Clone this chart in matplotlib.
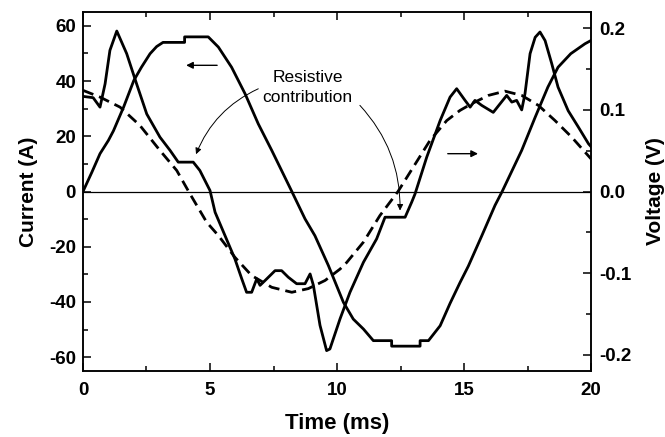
import matplotlib
matplotlib.use("Agg")
import matplotlib.pyplot as plt
from matplotlib.ticker import MultipleLocator

plt.rcParams['font.family'] = ['Liberation Sans', 'DejaVu Sans']
plt.rcParams['axes.unicode_minus'] = False

# current (left axis, A)
t_cur = [0, 0.35, 0.67, 1.0, 1.2, 1.6, 2.0, 2.3, 2.64, 2.9, 3.15, 4.0, 4.0, 4.93,
         5.33, 5.85, 6.38, 6.9, 7.43, 8.2, 8.74, 9.13, 9.66, 10.25, 10.64, 11.04,
         11.43, 12.15, 12.15, 13.27, 13.27, 13.6, 14.06, 14.45, 14.84, 15.17, 15.7,
         16.22, 16.5, 17.27, 17.8, 18.3, 18.7, 19.2, 19.76, 20.0]
i_cur = [0, 7, 13.7, 18.5, 22, 30.6, 40.2, 45, 49.9, 52.5, 54, 54, 56, 56,
         52.3, 45, 35.4, 24.5, 14.9, 0.4, -9.9, -16, -26.8, -40.1, -46.2, -49.8,
         -54, -54, -56, -56, -54, -54, -48.6, -40.5, -33, -27, -16,
         -5, 0, 14.9, 26.9, 37.8, 45, 49.9, 53.5, 54.7]

# measured voltage (right axis, V)
t_volt = [0, 0.4, 0.67, 0.87, 1.06, 1.33, 1.72, 2.11, 2.51, 3.03, 3.43, 3.75, 4.34,
          4.6, 5.0, 5.2, 5.59, 5.98, 6.25, 6.44, 6.64, 6.84, 6.97, 7.17, 7.56, 7.82,
          8.08, 8.41, 8.74, 8.94, 9.07, 9.33, 9.59, 9.72, 10.12, 10.51, 11.04, 11.56,
          11.89, 12.68, 12.94, 13.07, 13.53, 14.06, 14.45, 14.71, 15.04, 15.24, 15.43,
          15.7, 16.15, 16.42, 16.68, 16.88, 17.07, 17.27, 17.4, 17.6, 17.8, 17.99,
          18.19, 18.45, 18.7, 19.1, 19.5, 19.9, 20.0]
v_volt = [0.1166, 0.115, 0.1034, 0.132, 0.173, 0.1967, 0.169, 0.132, 0.095, 0.0666,
          0.0503, 0.036, 0.036, 0.0258, 0.0012, -0.0254, -0.054, -0.0826, -0.107,
          -0.1235, -0.1235, -0.107, -0.115, -0.109, -0.097, -0.097, -0.105, -0.113,
          -0.113, -0.101, -0.115, -0.164, -0.195, -0.193, -0.156, -0.1235, -0.0867,
          -0.058, -0.0315, -0.0315, -0.013, -0.003, 0.042, 0.087, 0.1157, 0.126,
          0.1117, 0.1034, 0.1117, 0.1055, 0.097, 0.1076, 0.1178, 0.1096, 0.1117, 0.1,
          0.12, 0.169, 0.189, 0.1955, 0.185, 0.157, 0.128, 0.099, 0.079, 0.0585, 0.055]

# dashed voltage curve (right axis, V)
t_dash = [0, 0.67, 1.46, 2.24, 3.03, 3.69, 4.21, 4.87, 5.33, 5.98, 6.64, 7.43, 8.22,
          8.87, 9.53, 10.12, 10.38, 11.04, 11.69, 12.4, 13.0, 13.66, 14.32, 14.84,
          15.3, 15.96, 16.61, 17.27, 17.93, 18.58, 19.24, 20.0]
v_dash = [0.124, 0.1157, 0.1034, 0.081, 0.0503, 0.0258, -0.0028, -0.0377, -0.054,
          -0.0806, -0.103, -0.1174, -0.1235, -0.119, -0.109, -0.095, -0.087, -0.062,
          -0.0294, 0.0, 0.0298, 0.0626, 0.087, 0.0994, 0.1076, 0.1178, 0.123, 0.1178,
          0.1055, 0.087, 0.0666, 0.04]

fig = plt.figure(figsize=(6.65, 4.37), dpi=100)
ax = fig.add_axes([0.1248, 0.151, 0.764, 0.8215])
ax2 = ax.twinx()

ax.axhline(0, color='black', lw=0.9)
ax.plot(t_cur, i_cur, color='black', lw=2.0)
ax2.plot(t_volt, v_volt, color='black', lw=2.0)
ax2.plot(t_dash, v_dash, color='black', lw=2.0, dashes=(4.0, 2.2))

ax.set_xlim(0, 20)
ax.set_ylim(-65, 65)
ax2.set_ylim(-0.22, 0.22)

ax.xaxis.set_major_locator(MultipleLocator(5))
ax.xaxis.set_minor_locator(MultipleLocator(2.5))
ax.yaxis.set_major_locator(MultipleLocator(20))
ax.yaxis.set_minor_locator(MultipleLocator(10))
ax2.yaxis.set_major_locator(MultipleLocator(0.1))
ax2.yaxis.set_minor_locator(MultipleLocator(0.05))
ax2.set_yticklabels([f"{v:.1f}" for v in ax2.get_yticks()])

ax.tick_params(which='both', direction='in', top=True, right=False, width=1.1)
ax.tick_params(which='major', length=5.5)
ax.tick_params(which='minor', length=3.5)
ax.tick_params(axis='y', pad=5)
ax.tick_params(axis='x', pad=8)
ax2.tick_params(which='both', direction='in', width=1.1, pad=6)
ax2.tick_params(which='major', length=5.5)
ax2.tick_params(which='minor', length=3.5)

for a in (ax, ax2):
    for lab in a.get_xticklabels() + a.get_yticklabels():
        lab.set_fontsize(13.5)
        lab.set_fontweight('bold')
    for s in a.spines.values():
        s.set_linewidth(1.1)

ax.set_xlabel("Time (ms)", fontsize=16, fontweight='bold', labelpad=10)
ax.set_ylabel("Current (A)", fontsize=15, fontweight='bold', labelpad=8)
ax2.set_ylabel("Voltage (V)", fontsize=15, fontweight='bold', labelpad=10)

# annotations
ax.annotate('', xy=(3.95, 45.7), xytext=(5.39, 45.7),
            arrowprops=dict(arrowstyle='-|>', color='black', lw=1.0,
                            mutation_scale=10))
ax.annotate('', xy=(15.66, 13.7), xytext=(14.25, 13.7),
            arrowprops=dict(arrowstyle='-|>', color='black', lw=1.0,
                            mutation_scale=10))
ax.text(8.84, 37.6, "Resistive\ncontribution", ha='center', va='center',
        fontsize=12.5, linespacing=1.4)
ax.annotate('', xy=(4.45, 13.5), xytext=(6.9, 37.2),
            arrowprops=dict(arrowstyle='-|>', color='black', lw=0.7,
                            mutation_scale=9, shrinkA=0, shrinkB=0,
                            connectionstyle='arc3,rad=0.2'))
ax.annotate('', xy=(12.48, -6.9), xytext=(10.9, 31.2),
            arrowprops=dict(arrowstyle='-|>', color='black', lw=0.7,
                            mutation_scale=9, shrinkA=0, shrinkB=0,
                            connectionstyle='arc3,rad=-0.2'))

fig.savefig("out.png", dpi=100)
